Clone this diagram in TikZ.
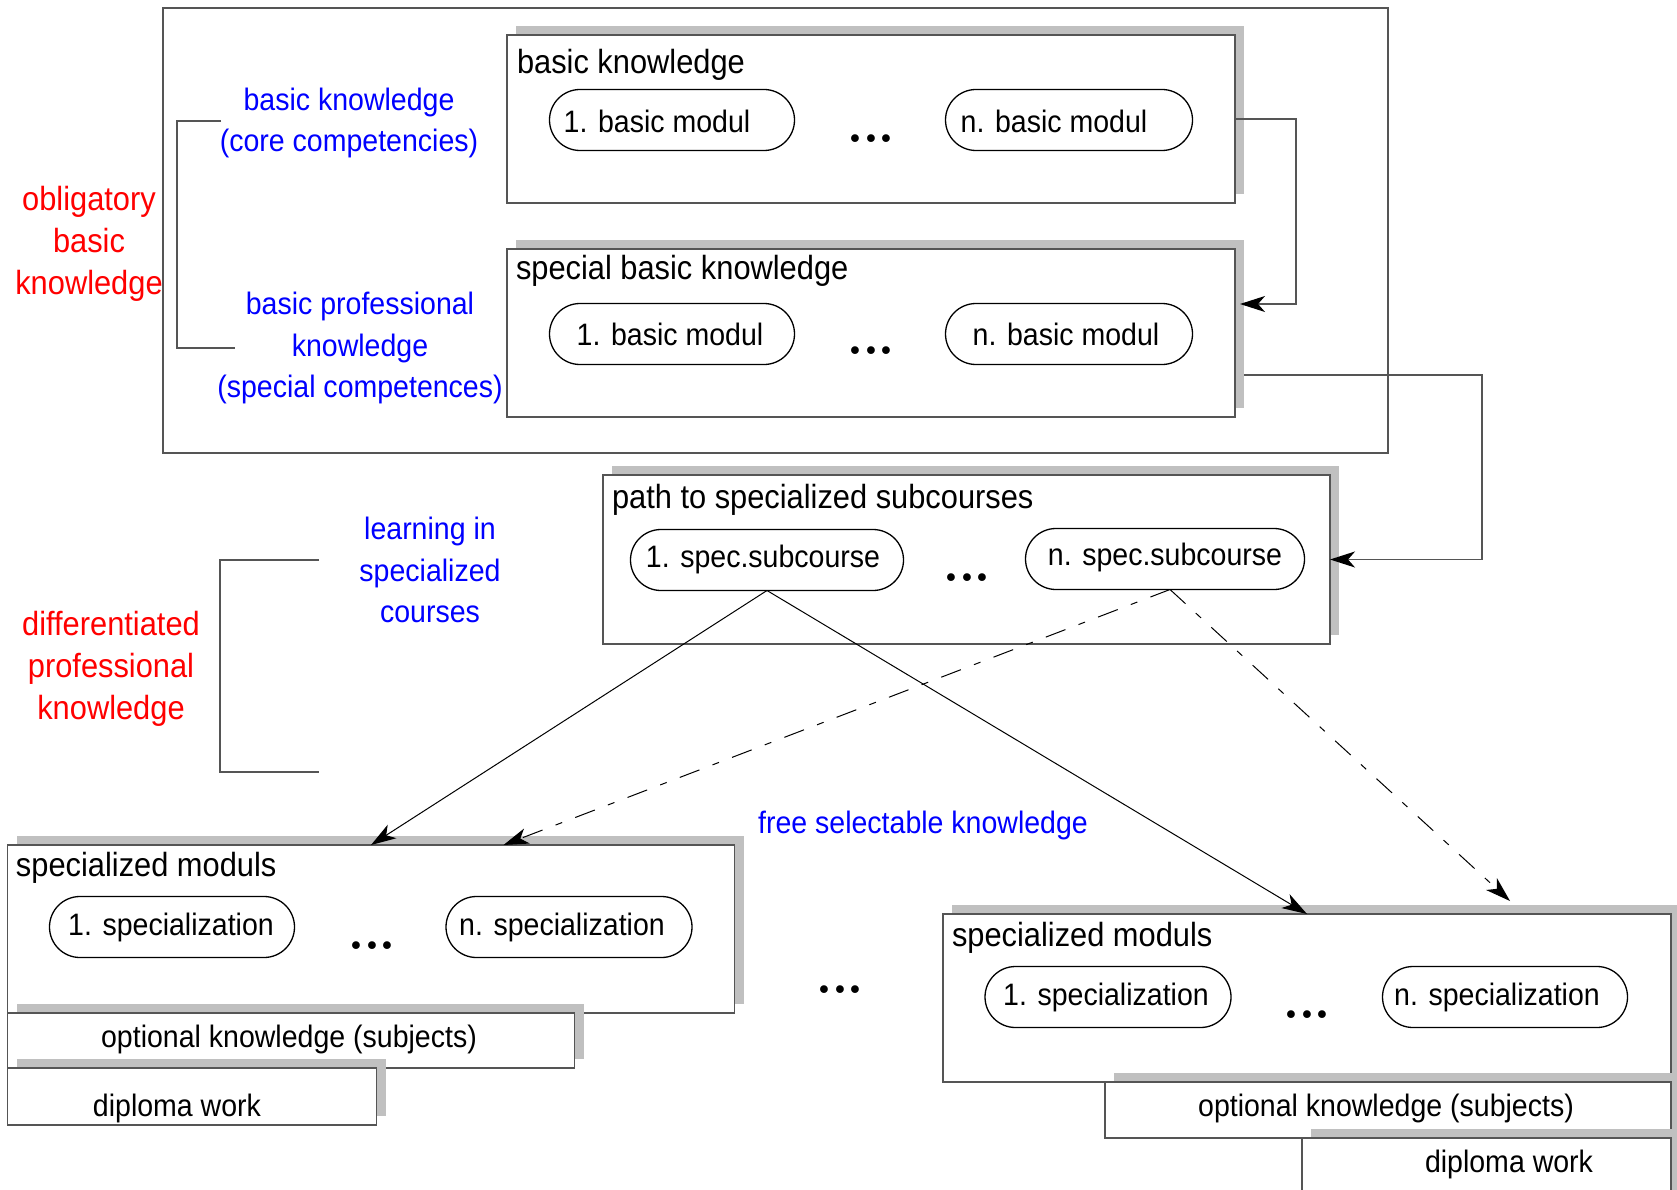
\documentclass[tikz,border=0pt]{standalone}
\usepackage{fontspec}
\setmainfont{Liberation Sans}[FakeStretch=0.92]
\newfontfamily\dotfont{lmroman10-bold.otf}
\usetikzlibrary{arrows.meta,shapes.misc,shadows,calc}
\definecolor{shgray}{HTML}{C0C0C0}
\definecolor{lngray}{HTML}{555555}
\definecolor{myred}{HTML}{FF0000}
\definecolor{myblue}{HTML}{0000FF}
\begin{document}
\begin{tikzpicture}[x=1pt,y=-1pt,
  every node/.style={font=\fontsize{31}{41.7}\selectfont, inner sep=0pt, outer sep=0pt},
  box/.style={draw=lngray, line width=1.4pt, fill=white, anchor=north west,
    drop shadow={shadow xshift=9pt, shadow yshift=9pt, fill=shgray, opacity=1}},
  plainbox/.style={draw=lngray, line width=1.4pt, anchor=north west},
  oval/.style={draw=black, line width=1.3pt, rounded rectangle, minimum height=61pt},
  title/.style={anchor=west, font=\fontsize{33.5}{41.7}\selectfont},
  dots/.style={font=\dotfont\fontsize{50}{55}\selectfont},
  redlab/.style={text=myred, align=center, font=\fontsize{33.5}{41.7}\selectfont},
  bluelab/.style={text=myblue, align=center},
  conn/.style={draw=lngray, line width=1.3pt},
  tip/.style={-{Stealth[length=25pt,width=16pt,inset=7pt,color=black]}},
  arr/.style={draw=black, line width=1pt, tip},
  dashdot/.style={dash pattern=on 21pt off 14pt on 7pt off 14pt}
]
\useasboundingbox (0,0) rectangle (1677,1190);

% outer frame
\node[plainbox, minimum width=1225pt, minimum height=445pt] (outer) at (163,8) {};

% boxes
\node[box, minimum width=728pt, minimum height=168pt] (bk) at (507,35) {};
\node[box, minimum width=728pt, minimum height=168pt] (sb) at (507,249) {};
\node[box, minimum width=727pt, minimum height=169pt] (pb) at (603,475) {};
\node[box, minimum width=727pt, minimum height=168pt] (ls) at (7.5,845) {};
\node[box, minimum width=567pt, minimum height=55pt] (lo) at (7.5,1013) {};
\node[box, minimum width=369pt, minimum height=57pt] (ld) at (7.5,1068) {};
\node[box, minimum width=728pt, minimum height=168pt] (rs) at (943,914) {};
\node[box, minimum width=566pt, minimum height=56pt] (ro) at (1105,1082) {};
\node[box, minimum width=369pt, minimum height=70pt] (rd) at (1302,1138) {};

% titles
\node[title] (bkt) at (517,65) {basic knowledge};
\node[title] (sbt) at (516,271) {special basic knowledge};
\node[title] (pbt) at (612,500) {path to specialized subcourses};
\node[title] (lst) at (16,868) {specialized moduls};
\node[title] (rst) at (952,938) {specialized moduls};

% ovals
\node[oval, minimum width=245pt] (bk1) at (672,120) {};
\node[oval, minimum width=247pt] (bkn) at (1069,120) {};
\node (bk1t) at (657,121) {1. basic modul};
\node (bknt) at (1054,121) {n. basic modul};
\node[oval, minimum width=245pt] (sb1) at (672,334) {};
\node[oval, minimum width=247pt] (sbn) at (1069,334) {};
\node (sb1t) at (670,334) {1. basic modul};
\node (sbnt) at (1066,334) {n. basic modul};
\node[oval, minimum width=273pt] (pb1) at (767,560) {};
\node[oval, minimum width=279pt] (pbn) at (1165,559) {};
\node (pb1t) at (763,559) {1. spec.subcourse};
\node (pbnt) at (1165,557) {n. spec.subcourse};
\node[oval, minimum width=245pt] (ls1) at (172,927) {};
\node[oval, minimum width=246pt] (lsn) at (569,927) {};
\node (ls1t) at (171,927) {1. specialization};
\node (lsnt) at (562,927) {n. specialization};
\node[oval, minimum width=246pt] (rs1) at (1108,997) {};
\node[oval, minimum width=245pt] (rsn) at (1505,997) {};
\node (rs1t) at (1106,997) {1. specialization};
\node (rsnt) at (1497,997) {n. specialization};

% dots
\node[dots] (bkd) at (871,139) {...};
\node[dots] (sbd) at (871,351) {...};
\node[dots] (pbd) at (967,578) {...};
\node[dots] (lsd) at (372,946) {...};
\node[dots] (rsd) at (1307,1015) {...};
\node[dots] (midd) at (840,990) {...};

% small box texts
\node (lot) at (289,1039) {optional knowledge (subjects)};
\node (ldt) at (177,1108) {diploma work};
\node (rot) at (1386,1108) {optional knowledge (subjects)};
\node (rdt) at (1509,1164) {diploma work};

% side labels
\node[redlab] (obl) at (89,244) {obligatory\\basic\\knowledge};
\node[bluelab] (core) at (349,123) {basic knowledge\\(core competencies)};
\node[bluelab] (prof) at (360,348) {basic professional\\knowledge\\(special competences)};
\node[bluelab] (learn) at (430,570) {learning in\\specialized\\courses};
\node[redlab] (diff) at (111,669) {differentiated\\professional\\knowledge};
\node[bluelab] (free) at (923,825) {free selectable knowledge};

% brackets
\draw[conn] (221,121) -- (177,121) -- (177,348) -- (235,348);
\draw[conn] (319,560) -- (220,560) -- (220,772) -- (319,772);

% connectors
\draw[conn, tip] (bk.east) -- ++(61,0) |- ($(sb.north east)+(5,55)$);
\draw[conn, tip] ($(sb.north east)+(9,126)$) -- ++(238,0) |- (pb.east);

% diagonal arrows
\draw[arr] (pb1.south) -- ($(ls.north west)+(363.5,0)$);
\draw[arr] (pb1.south) -- ($(rs.north west)+(364,0)$);
\draw[arr, dashdot] ($(pbn.south)+(5,0)$) -- ($(ls.north west)+(496,0)$);
\draw[arr, dashdot] ($(pbn.south)+(5,0)$) -- ($(rs.north west)+(567,-13)$);
\end{tikzpicture}
\end{document}
